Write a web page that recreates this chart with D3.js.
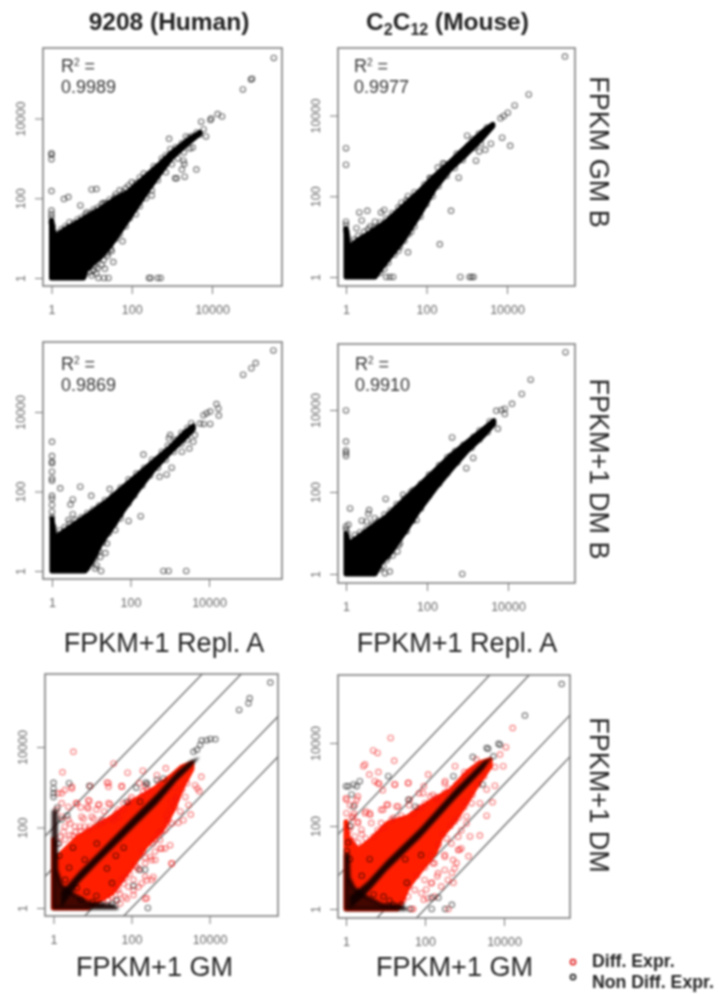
<!DOCTYPE html>
<html>
<head>
<meta charset="utf-8">
<script src="https://cdn.jsdelivr.net/npm/d3@7"></script>
<style>
  html, body { margin: 0; padding: 0; background: #fff; }
  svg { display: block; filter: blur(0.9px); }
  text { font-family: "Liberation Sans", Arial, sans-serif; }
</style>
</head>
<body>
<svg id="chart" width="719" height="994"></svg>
<script>
// all values are log10(FPKM+1)
var tickValues = [0, 2, 4];
var tickLabels = ["1", "100", "10000"];
var diagonalOffsets = [2, 1, -1, -2];

// solid parts of the clouds, too dense to read single points
var cloudA = [[0,0],[0,1.45],[.05,1.15],[.1,1.05],[.3,1.2],[.6,1.37],[.9,1.55],[1.2,1.72],[1.6,2],[1.9,2.15],[2.4,2.6],[2.7,2.86],[3,3.15],[3.4,3.46],[3.7,3.65],[3.7,3.62],[3.4,3.38],[3,3.02],[2.7,2.62],[2.4,2.2],[2.05,1.67],[1.8,1.3],[1.46,.8],[1.2,.5],[1.04,.37],[.85,.18],[.8,0]];
var cloudB = [[0,0],[0,1.2],[.05,.85],[.1,.75],[.3,.92],[.6,1.1],[1,1.37],[1.4,1.74],[1.8,2.1],[2.2,2.5],[2.6,2.86],[3,3.24],[3.4,3.6],[3.65,3.78],[3.65,3.74],[3.4,3.45],[3,3.05],[2.6,2.68],[2.2,2.18],[1.8,1.5],[1.4,.88],[1.1,.5],[.9,.25],[.72,0]];
var cloudC = [[0,0],[0,1.32],[.05,.95],[.1,.85],[.3,1],[.6,1.2],[1,1.47],[1.4,1.76],[1.8,2.1],[2.2,2.43],[2.6,2.77],[3,3.1],[3.4,3.5],[3.6,3.65],[3.6,3.57],[3.4,3.36],[3,2.98],[2.6,2.56],[2.2,2.05],[1.8,1.5],[1.5,1.05],[1.25,.7],[1.05,.3],[.85,0]];
var cloudD = [[0,0],[0,.99],[.05,.8],[.1,.76],[.3,.9],[.6,1.12],[1,1.4],[1.4,1.78],[1.8,2.15],[2.2,2.52],[2.6,2.9],[3,3.22],[3.4,3.54],[3.65,3.74],[3.65,3.66],[3.4,3.38],[3,3.01],[2.6,2.56],[2.2,2.08],[1.8,1.55],[1.4,.95],[1.1,.52],[.85,.26],[.72,0]];
var cloudE = [[0,0],[0,1.7],[.04,1.19],[.29,1.44],[.63,1.76],[1.5,2.26],[2.09,2.68],[2.6,2.97],[3,3.26],[3.3,3.51],[3.55,3.6],[3.55,3.45],[3.3,3],[3.06,2.43],[2.78,1.94],[2.35,1.52],[2,1.02],[1.5,.37],[.88,.02],[.88,0]];
var cloudF = [[0,0],[0,2.1],[.05,1.73],[.3,1.42],[.63,1.66],[1.06,2.07],[1.57,2.22],[2.08,2.55],[2.66,2.87],[3.1,3.32],[3.4,3.52],[3.65,3.6],[3.65,3.44],[3.3,2.96],[3.04,2.55],[2.76,2.14],[2.4,1.73],[2.25,1.35],[1.9,.94],[1.57,.53],[1.39,.14],[1.3,0]];

// black ridge along y=x inside the two red clouds
var ridgeE = [[.2,.02],[.68,.66],[1.2,1.18],[2.05,2],[2.65,2.58],[3.16,3.16],[3.5,3.48],[3.75,3.75],[3.5,3.66],[3.16,3.38],[2.65,2.84],[2.05,2.26],[1.2,1.42],[.68,.92],[.2,.4]];
var ridgeF = [[.1,.02],[.55,.4],[1.03,.92],[1.89,1.72],[2.72,2.6],[3.48,3.36],[3.7,3.65],[3.48,3.56],[2.72,2.84],[1.89,1.96],[1.03,1.16],[.55,.66],[.1,.3]];
// dark corner and left column under the ridge
var cornerE = [[0,0],[0,2.4],[.06,2.4],[.07,.95],[.2,.55],[.5,.35],[.9,.12],[1.5,.06],[1.62,0]];
var cornerF = [[0,0],[0,1.3],[.05,1.3],[.07,.75],[.2,.5],[.5,.3],[.9,.1],[1.4,.06],[1.5,0]];

var pointsA = [[5.54,5.52],[5,5],[4.97,4.98],[4.77,4.73],[4.25,4.05],[4.14,4.11],[3.98,4],[3.96,3.96],[3.73,3.92],[3.85,3.55],[2.93,3.49],[2.96,3.23],[3.29,2.94],[3.31,2.86],[3.25,2.72],[3.32,2.54],[3.61,2.72],[3.08,2.5],[3.12,2.5],[2.5,2.07],[1.92,2.32],[2.11,2.38],[1.58,2.03],[1.29,1.88],[1.12,2.23],[1,2.22],[.42,2.03],[.31,1.98],[.72,1.82],[0,2.18],[0,2.98],[0,3.09],[0,3.13],[0,1.69],[0,1.6],[0,1.52],[1.77,.92],[1.63,1.07],[1.54,.4],[1.48,.73],[1.39,.63],[1.33,.23],[1.42,0],[1.31,0],[1.17,0],[2.43,0],[2.47,0],[2.65,0],[2.72,0],[.92,.27],[1.04,.19],[1.12,.11],[.96,.15],[.88,1.65],[1.08,1.67],[.42,1.27],[.64,1.36],[1.37,1.77],[1.79,2.15],[2.37,2.48],[2.79,2.94],[3.42,3.52],[3.62,3.65],[3.52,3.27],[3.7,3.6],[3.79,3.73],
  [0,1.4],[.03,1.3],[.05,1.12],[.15,1.12],[.25,1.22],[.35,1.3],[.45,1.4],[.55,1.38],[.65,1.47],[.75,1.52],[.85,1.6],[.95,1.62],[1.05,1.72],[1.15,1.76],[1.25,1.85],[1.35,1.88],[1.45,1.97],[1.6,2.1],[1.7,2.2],[1.85,2.25],[2,2.4],[2.2,2.52],[2.3,2.62],[2.55,2.8],[2.75,3],[2.85,3.08],[3.1,3.28],[3.25,3.38],[3.35,3.55],[3.5,3.56],
  [.82,.08],[.9,.25],[1,.06],[1.08,.3],[1.15,.25],[1.25,.33],[1.3,.45],[1.4,.55],[1.5,.68],[1.6,.98],[1.7,1.1],[1.85,1.3],[1.95,1.5],[2.1,1.6],[2.2,1.8],[2.35,2],[2.5,2.2],[2.65,2.45],[2.85,2.65],[3,2.85],[3.15,3],[3.3,3.15],[3.45,3.25]];
var pointsB = [[5.44,5.46],[4.54,4.52],[4.19,4.25],[4.02,4.07],[3.92,3.99],[3.84,3.93],[3.01,3.5],[3.88,3.45],[4.08,3.25],[3.6,3.3],[3.46,3.15],[3.23,2.88],[3.31,3.11],[2.8,2.46],[2.41,2.82],[2.28,2.71],[2.08,2.45],[2.61,1.64],[2.33,.81],[1.54,.61],[1.54,2],[1.38,1.84],[.95,1.66],[.87,1.6],[.53,1.64],[.33,1.6],[.39,1.4],[.26,1.21],[0,3.19],[0,2.78],[0,1.37],[0,1.29],[0,1.17],[.6,1.25],[.72,1.37],[1.62,1.12],[1.71,1.41],[1.34,.75],[1.17,0],[1.09,0],[1,0],[.88,.26],[.96,.34],[2.84,0],[3.07,0],[3.12,0],[3.17,0],
  [.02,1.1],[.04,1],[.12,.85],[.2,.92],[.3,1.02],[.45,1.12],[.55,1.18],[.7,1.22],[.85,1.35],[1,1.45],[1.15,1.58],[1.3,1.72],[1.5,1.9],[1.7,2.1],[1.95,2.3],[2.1,2.45],[2.45,2.8],[2.75,3.05],[3.15,3.42],[3.3,3.55],[3.5,3.7],
  [.75,.08],[.85,.1],[.95,.2],[1.05,.35],[1.2,.55],[1.3,.65],[1.45,.9],[1.55,1.05],[1.7,1.25],[1.85,1.5],[2,1.8],[2.15,2],[2.3,2.25],[2.5,2.5],[2.7,2.7],[2.9,2.9],[3.2,3.2],[3.35,3.3]];
var pointsC = [[5.64,5.55],[5.19,5.23],[5.08,5.1],[4.87,4.94],[4.19,4.2],[4.25,3.91],[4.24,4.09],[3.86,3.92],[3.94,3.97],[4.03,4.01],[3.86,3.7],[4.03,3.7],[3.77,3.71],[3.64,3.42],[2.33,2.93],[3.01,3.42],[2.98,3.34],[3.6,3.25],[3.5,3.08],[3.31,3],[3.05,2.6],[2.92,2.43],[2.74,2.37],[2.26,1.38],[1.95,1.26],[1.61,1.03],[1.74,1.32],[1.47,2.06],[1,1.89],[.72,2.12],[.21,2.08],[0,3.25],[0,2.89],[0,2.75],[0,2.71],[0,2.5],[0,2.33],[0,2.27],[0,1.89],[0,1.82],[0,1.66],[0,1.49],[.53,1.8],[.47,1.67],[.53,1.43],[.42,1.28],[1.25,0],[2.84,0],[2.97,0],[3.42,0],[1.36,.45],[1.23,.35],[1.14,.14],[1.1,.06],[1.4,.69],
  [0,1.35],[.04,1.1],[.12,.92],[.2,1.02],[.32,1.1],[.45,1.2],[.6,1.28],[.75,1.35],[.9,1.46],[1.05,1.55],[1.2,1.65],[1.35,1.78],[1.55,1.9],[1.75,2.1],[1.95,2.3],[2.15,2.45],[2.35,2.6],[2.55,2.8],[2.8,3],[2.95,3.15],[3.15,3.3],[3.3,3.48],[3.45,3.6],[3.55,3.72],
  [.9,.08],[1,.2],[1.1,.32],[1.2,.5],[1.3,.72],[1.45,.95],[1.6,1.2],[1.75,1.42],[1.95,1.7],[2.1,1.9],[2.3,2.15],[2.5,2.4],[2.7,2.6],[2.9,2.8],[3.1,3],[3.3,3.2],[3.45,3.3]];
var pointsD = [[5.42,5.41],[4.56,4.74],[4.34,4.39],[4.1,4.15],[3.92,4.03],[3.84,4],[3.71,3.98],[3.92,3.9],[3.75,3.54],[2.62,3.33],[2.58,2.88],[2.69,2.95],[2.97,2.58],[3.14,2.83],[0,3.99],[0,3.23],[0,3.01],[0,2.95],[0,2.88],[.1,1.6],[.98,1.83],[1.41,1.93],[1.66,2.05],[.57,1.56],[.55,1.47],[.39,1.3],[.51,1.28],[.71,1.36],[0,1.16],[0,1.08],[.06,1.2],[1.74,1.32],[1.45,1.03],[1.33,.75],[1.27,.55],[1.04,.42],[1.08,.06],[.96,.02],[.8,.16],[.92,.18],[2.87,0],[1.17,.75],[1,.34],
  [.03,1],[.12,.85],[.22,.95],[.35,1.02],[.5,1.1],[.65,1.2],[.8,1.3],[.95,1.45],[1.1,1.55],[1.25,1.7],[1.45,1.85],[1.6,2],[1.85,2.2],[2.05,2.42],[2.3,2.65],[2.5,2.85],[2.7,3],[2.9,3.15],[3.15,3.35],[3.3,3.5],[3.55,3.72],
  [.72,.08],[.85,.12],[1.15,.45],[1.3,.7],[1.5,1.05],[1.65,1.3],[1.85,1.6],[2.05,1.9],[2.3,2.2],[2.5,2.45],[2.75,2.72],[3.1,3.08],[3.3,3.28],[3.5,3.46]];

var blackE = [[5.56,5.6],[5.03,5.21],[5,5.09],[4.76,4.92],[4.15,4.19],[4.02,4.2],[3.93,4.17],[3.8,4.16],[3.76,4.05],[3.68,3.93],[3.59,3.88],[.4,3.1],[0,3.11],[0,2.97],[0,2.85],[0,2.76],[.92,3.03],[2.12,2.99],[1.88,2.64],[2.37,3.12],[2.4,3.08],[2.82,3.22],[2.65,3.18],[2.22,2.64],[2.42,0],[1.62,.19],[2.22,.95],[2.35,.95],[1.11,1.6],[1.37,.98],[.5,1.5],[.8,1.2],[1.6,1.3],[1.8,1.5],[.1,2.5],[.2,2.2],[.35,2.3],[1.5,.1],[1.2,.1],[1.5,.62],[1.1,.3],[.85,.4],[.6,.5],[.3,.7],[.4,1],[.15,1.3],[.12,1.6],[2.05,.55],[.7,.2],[1,.15]];
var redE = [[.51,3.88],[.23,3.37],[1.54,3.59],[1.9,3.36],[2.29,3.41],[2.88,3.47],[1.37,3.12],[1.41,3.01],[1.75,3.01],[2.65,3.3],[.21,2.85],[.47,2.97],[.58,2.6],[.92,2.66],[.87,2.51],[1.17,2.57],[1.45,2.58],[1.97,2.68],[.77,2.22],[1.03,2.22],[1.54,2.18],[1.67,2.27],[.43,2.1],[.26,1.89],[.68,2.02],[1.2,2.1],[.94,2.02],[.56,1.89],[.38,2.51],[3.79,3.26],[3.63,3.05],[3.69,2.97],[3.74,2.9],[3.46,2.56],[3.52,2.32],[3.33,2.18],[3.2,2.12],[3.38,2.76],[3.16,2.76],[3.03,2.64],[3.12,2.51],[2.91,2.1],[3.03,1.1],[2.99,1.56],[2.86,1.48],[2.74,1.48],[2.61,1.19],[2.48,1.27],[2.56,.77],[2.39,.69],[2.35,.23],[2.18,.52],[2.05,.44],[1.88,.23],[1.71,.11],[2.2,3.1],[2.5,2.9],[2.9,2.9],[3.1,3],[3.25,2.4],[2.95,2.2],[2.75,1.9],[2.6,1.7],[2.35,1.25],[2.15,1],[1.95,.85],[1.8,.6],[1.6,.5],[.7,2.5],[1.1,2.45],[1.3,2.4],[1.8,2.6],[2.3,2.9],
  [.47,3.01],[.94,3.03],[1.41,3.1],[1.75,3.03],[.89,2.68],[1.15,2.56],[1.41,2.6],[.6,2.6],[.89,2.47],[.38,2.19],[.72,2.27],[.98,2.27],[1.23,2.19],[1.49,2.23],[1.66,2.44],[1.92,2.6],[2.26,2.77],[2.35,3.03],[.29,2.93],[.21,2.6],[.21,2.27],[.29,2.02],[.55,2.02],[.8,2.02],[.17,1.77],[.42,1.81],[.12,2.85],[.08,2.44],[.15,1.6],[.3,1.7],[.5,1.8],[.7,1.9],[.9,1.95],[1.1,2.05],[1.3,2.15],[1.6,2.35],[1.8,2.45],[2,2.75],[2.4,2.95],[2.7,3.1],
  [3.03,1.11],[2.77,1.48],[2.6,1.4],[2.52,1.19],[2.35,1.11],[2.35,.78],[2.52,.7],[2.26,.61],[2.05,.7],[1.92,.53],[1.75,.7],[1.83,.28],[1.62,.2],[2.05,.32],[2.39,.24],[1.66,.45],[1.49,.28],[2.18,.95],[2.73,1.69],[2.86,1.94],[3.03,2.1],[1.4,.2],[1.25,.15],[1.1,.08],[1.7,.35],[1.85,.75],[2.1,1.05],[2.3,1.4],[2.55,1.6],[2.7,1.85],[2.9,2.3],[3,2.45],[3.15,2.7],[3.3,2.95],[3.42,3.1]];
var blackF = [[5.46,5.42],[4.53,4.66],[3.86,3.98],[3.9,3.96],[3.56,3.88],[3.6,3.86],[3.21,3.66],[3.73,3.68],[3.46,3],[1.07,3.2],[.35,3.08],[0,2.96],[.06,2.96],[.19,3],[.27,2.96],[.14,2.76],[.19,2.47],[1.58,2.63],[1.75,2.47],[2.72,3.2],[2.34,.27],[2.17,.27],[2.17,0],[2.51,0],[2.68,.1],[1.62,0],[1.54,.63],[.6,1.2],[1.5,1.2],[1.9,1.3],[.1,2],[1.4,.1],[1.2,.1],[.02,1.4],[.05,1.6],[.1,1.2],[.4,.8],[.7,.35],[.95,.3],[1.1,.2]];
var redF = [[1.13,4.12],[.69,3.82],[.8,3.76],[1.22,3.57],[.48,3.48],[.44,3.44],[.82,3.3],[.59,3.24],[.73,3.08],[.84,3.02],[.93,2.86],[1.24,3],[1.58,3.04],[2.08,3.24],[1.97,2.96],[2.51,3.08],[2.76,3.44],[4.22,4.36],[4.05,3.9],[3.9,3.72],[3.98,3.44],[3.77,3.42],[3.77,2.97],[3.56,2.88],[3.71,2.57],[3.56,2.25],[3.39,2.55],[3.39,1.77],[3.14,1.75],[3.1,1.27],[2.87,1.43],[2.8,1.11],[2.68,.87],[2.72,.63],[3.18,2.55],[3.05,2.23],[.48,2.31],[.61,2.27],[1.03,2.51],[1.28,2.47],[.94,2.39],[0,2.67],[.27,2.63],[2.46,2.47],[2.13,2.71],[2.3,2.63],[1.85,2.79],[2.03,.47],[2.17,.63],[1.97,.22],[2.31,.79],[1.7,0],[2.59,0],[.1,2.5],[.2,2.3],[.3,2.1],[.4,1.8],[.15,2.2],[.8,1.9],[1.2,2.2],[1.6,2.5],[2,2.55],[2.6,2.9],[3,3.3],[3.3,3.6],[3,2.6],[2.75,2.1],[2.55,1.7],[2.5,1.3],[2.2,1.1],
  [.81,3.03],[1.23,3],[1.57,3.03],[1.06,2.51],[1.32,2.47],[.89,2.39],[.6,2.31],[.51,2.35],[1.61,2.63],[1.82,2.43],[1.95,2.79],[2.2,2.75],[2.5,3.03],[.3,2.71],[.22,2.51],[.18,2.23],[.3,2.07],[.01,2.63],[.01,2.31],[.13,1.99],[.39,1.91],[.22,1.75],[.64,2.07],[.89,2.07],[.08,1.9],[.12,1.65],[.3,1.6],[.5,1.7],[.7,1.75],[.95,1.95],[1.15,2.15],[1.4,2.25],[1.7,2.3],[1.9,2.45],[2.3,2.7],[2.5,2.8],[2.8,3],[3,3.2],[3.25,3.4],
  [2.84,1.42],[2.71,1.18],[2.75,.98],[2.5,1.26],[2.33,.86],[2.58,.7],[2.41,.54],[2.16,.62],[1.99,.7],[1.91,.38],[2.24,.3],[1.74,.46],[1.66,0],[1.57,.3],[2.07,.26],[2.92,1.9],[3.05,2.06],[2.84,1.74],[2.67,1.58],[2.92,1.46],[2.5,.94],[2.24,1.1],[1.45,.2],[1.6,.55],[1.8,.8],[2,1],[2.15,1.3],[2.35,1.55],[2.45,1.8],[2.65,2],[2.85,2.2],[3,2.45],[3.2,2.75],[3.35,3],[3.5,3.2]];

var panels = [
  {cloud: cloudA, ridge: null, corner: null, black: pointsA, red: [], r2: "0.9989", r2x: 61, r2y: 72, left: 43, right: 282, top: 48, bottom: 286, x0: 51.5, x4: 212, y0: 278, y4: 118.5},
  {cloud: cloudB, ridge: null, corner: null, black: pointsB, red: [], r2: "0.9977", r2x: 354, r2y: 72, left: 338, right: 575, top: 48, bottom: 286, x0: 346, x4: 507, y0: 277, y4: 115.5},
  {cloud: cloudC, ridge: null, corner: null, black: pointsC, red: [], r2: "0.9869", r2x: 61, r2y: 370, left: 43, right: 282, top: 342, bottom: 579, x0: 52, x4: 209, y0: 571, y4: 412},
  {cloud: cloudD, ridge: null, corner: null, black: pointsD, red: [], r2: "0.9910", r2x: 355, r2y: 370, left: 338, right: 575, top: 344, bottom: 583, x0: 346, x4: 508, y0: 574, y4: 410},
  {cloud: cloudE, ridge: ridgeE, corner: cornerE, black: blackE, red: redE, left: 45, right: 278, top: 674, bottom: 916, x0: 53.5, x4: 209.5, y0: 908, y4: 747},
  {cloud: cloudF, ridge: ridgeF, corner: cornerF, black: blackF, red: redF, left: 338, right: 570, top: 675, bottom: 918, x0: 346, x4: 504, y0: 909, y4: 743}
];

var GREY = "#777", TXT = "#666";
var svg = d3.select("#chart");
var page = svg.append("g");
var defs = svg.append("defs");
defs.append("filter").attr("id", "soft").append("feGaussianBlur").attr("stdDeviation", 1.1);

panels.forEach(function(p, i) {
  var x = d3.scaleLinear().domain([0, 4]).range([p.x0, p.x4]);
  var y = d3.scaleLinear().domain([0, 4]).range([p.y0, p.y4]);
  var path = d3.line().x(function(d) { return x(d[0]); }).y(function(d) { return y(d[1]); });

  defs.append("clipPath").attr("id", "clip" + i).append("rect")
    .attr("x", p.left).attr("y", p.top)
    .attr("width", p.right - p.left).attr("height", p.bottom - p.top);

  var g = page.append("g");
  var marks = g.append("g").attr("clip-path", "url(#clip" + i + ")");
  var isDiff = p.red.length > 0;

  if (isDiff) {
    marks.selectAll("line.diag").data(diagonalOffsets).enter().append("line")
      .attr("class", "diag")
      .attr("x1", x(-2)).attr("x2", x(8))
      .attr("y1", function(d) { return y(-2 + d); })
      .attr("y2", function(d) { return y(8 + d); })
      .attr("stroke", "#666").attr("stroke-width", 1.3);
  }

  marks.append("path").datum(p.cloud)
    .attr("d", function(d) { return path(d) + "Z"; })
    .attr("fill", isDiff ? "#ff1e00" : "#000")
    .attr("stroke", isDiff ? "#ff1e00" : "#000")
    .attr("stroke-width", 5).attr("stroke-linejoin", "round");

  marks.selectAll("circle.red").data(p.red).enter().append("circle")
    .attr("class", "red")
    .attr("cx", function(d) { return x(d[0]); })
    .attr("cy", function(d) { return y(d[1]); })
    .attr("r", 2.7).attr("fill", "none")
    .attr("stroke", "#f01010").attr("stroke-opacity", 0.55).attr("stroke-width", 1.1);

  if (p.corner) {
    marks.append("path").datum(p.corner)
      .attr("d", function(d) { return path(d) + "Z"; })
      .attr("fill", "#140000").attr("fill-opacity", 0.78)
      .attr("stroke", "#140000").attr("stroke-opacity", 0.78).attr("stroke-width", 4)
      .attr("stroke-linejoin", "round").attr("filter", "url(#soft)");
    marks.append("path").datum(p.ridge)
      .attr("d", function(d) { return path(d) + "Z"; })
      .attr("fill", "#080000").attr("fill-opacity", 0.92)
      .attr("filter", "url(#soft)");
  }

  marks.selectAll("circle.black").data(p.black).enter().append("circle")
    .attr("class", "black")
    .attr("cx", function(d) { return x(d[0]); })
    .attr("cy", function(d) { return y(d[1]); })
    .attr("r", 2.7).attr("fill", "none")
    .attr("stroke", "#000").attr("stroke-opacity", 0.55).attr("stroke-width", 1.1);

  g.append("rect")
    .attr("x", p.left).attr("y", p.top)
    .attr("width", p.right - p.left).attr("height", p.bottom - p.top)
    .attr("fill", "none").attr("stroke", GREY).attr("stroke-width", 1.5);

  var xAxis = d3.axisBottom(x).tickValues(tickValues).tickSize(8).tickPadding(11)
    .tickFormat(function(d, j) { return tickLabels[j]; });
  var yAxis = d3.axisLeft(y).tickValues(tickValues).tickSize(8).tickPadding(9)
    .tickFormat(function(d, j) { return tickLabels[j]; });

  var gx = g.append("g").attr("transform", "translate(0," + p.bottom + ")").call(xAxis);
  var gy = g.append("g").attr("transform", "translate(" + p.left + ",0)").call(yAxis);
  gx.select(".domain").remove();
  gy.select(".domain").remove();
  gx.selectAll("line").attr("stroke", GREY);
  gy.selectAll("line").attr("stroke", GREY);
  gx.selectAll("text").attr("fill", TXT).style("font-size", "12.5px");
  gy.selectAll("text").attr("fill", TXT).style("font-size", "12.5px")
    .attr("text-anchor", "middle").attr("x", 0).attr("dy", 0)
    .attr("transform", "translate(-18,0) rotate(-90)");

  if (p.r2) {
    var r = g.append("text").attr("x", p.r2x).attr("y", p.r2y)
      .attr("fill", "#333").style("font-size", "18px");
    r.append("tspan").text("R");
    r.append("tspan").text("2").attr("dy", -6).style("font-size", "10px");
    r.append("tspan").text(" =").attr("dy", 6);
    g.append("text").attr("x", p.r2x).attr("y", p.r2y + 21)
      .attr("fill", "#333").style("font-size", "18px").text(p.r2);
  }
});

// titles and axis names
function label(txt, xp, yp, size, weight, anchor, rot) {
  return page.append("text").text(txt)
    .attr("transform", "translate(" + xp + "," + yp + ")" + (rot ? " rotate(" + rot + ")" : ""))
    .attr("text-anchor", anchor || "middle")
    .attr("fill", "#222")
    .style("font-size", size + "px").style("font-weight", weight || "normal");
}
label("9208 (Human)", 169, 30, 24.5, "bold");
var c2 = page.append("text").attr("x", 447.5).attr("y", 30).attr("text-anchor", "middle")
  .attr("fill", "#222").style("font-size", "24.5px").style("font-weight", "bold");
c2.append("tspan").text("C");
c2.append("tspan").text("2").attr("dy", 5).style("font-size", "16px");
c2.append("tspan").text("C").attr("dy", -5);
c2.append("tspan").text("12").attr("dy", 5).style("font-size", "16px");
c2.append("tspan").text(" (Mouse)").attr("dy", -5);

label("FPKM+1 Repl. A", 164, 652, 27);
label("FPKM+1 Repl. A", 457, 652, 27);
label("FPKM+1 GM", 154.5, 976, 27);
label("FPKM+1 GM", 454.5, 976, 27);
label("FPKM GM B", 590, 152, 27, null, null, 90);
label("FPKM+1 DM B", 590, 469, 27, null, null, 90);
label("FPKM+1 DM", 590, 795, 27, null, null, 90);

// legend
var legendNames = ["Diff. Expr.", "Non Diff. Expr."];
var legendColors = ["#e01010", "#111"];
var legendMarkY = d3.scalePoint().domain(legendNames).range([962, 977]);
var legendTextY = d3.scalePoint().domain(legendNames).range([967, 988]);
legendNames.forEach(function(n, i) {
  page.append("circle").attr("cx", 573).attr("cy", legendMarkY(n)).attr("r", 2.6)
    .attr("fill", "none").attr("stroke", legendColors[i]).attr("stroke-width", 1.5);
  label(n, 592, legendTextY(n), 17.7, "bold", "start");
});
</script>
</body>
</html>
